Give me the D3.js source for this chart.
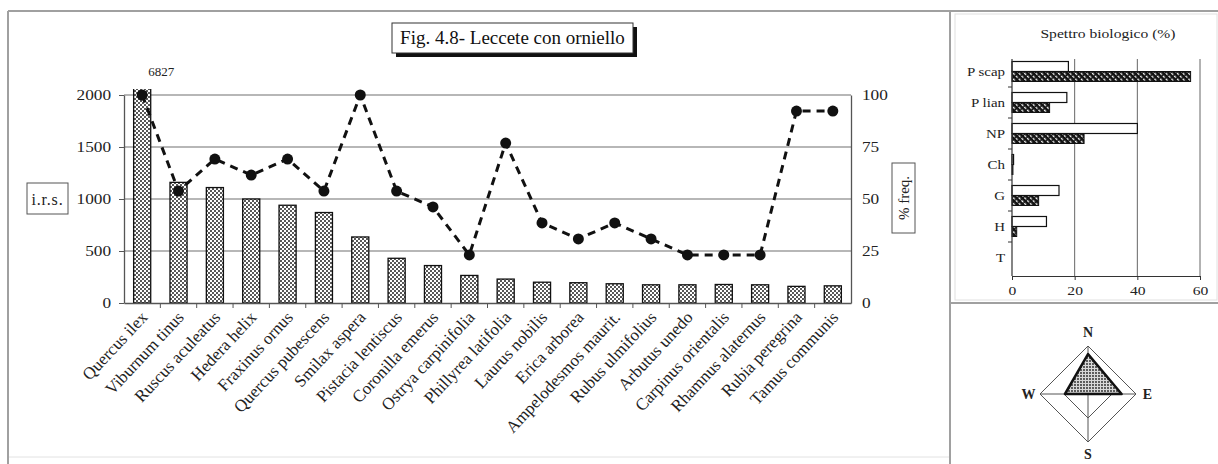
<!DOCTYPE html>
<html><head><meta charset="utf-8">
<script src="https://cdn.jsdelivr.net/npm/d3@7"></script>
<style>
html,body{margin:0;padding:0;background:#fff;}
svg{display:block;font-family:"Liberation Serif","Times New Roman",serif;}
svg text{font-family:"Liberation Serif","Times New Roman",serif;}
</style></head><body>
<svg id="chart" width="1218" height="464"></svg>
<script>
// Species of the holm-oak stands with manna ash, in order of i.r.s.
const species = ["Quercus ilex","Viburnum tinus","Ruscus aculeatus","Hedera helix","Fraxinus ornus",
  "Quercus pubescens","Smilax aspera","Pistacia lentiscus","Coronilla emerus","Ostrya carpinifolia",
  "Phillyrea latifolia","Laurus nobilis","Erica arborea","Ampelodesmos maurit.","Rubus ulmifolius",
  "Arbutus unedo","Carpinus orientalis","Rhamnus alaternus","Rubia peregrina","Tamus communis"];
const irsValues = [6827,1160,1110,1000,940,870,635,430,360,265,230,200,195,185,175,175,178,175,160,165];
const freqValues = [100,53.8,69.2,61.5,69.2,53.8,100,53.8,46.2,23.1,76.9,38.5,30.8,38.5,30.8,23.1,23.1,23.1,92.3,92.3];
const irsTicks = [0,500,1000,1500,2000];
const freqTicks = [0,25,50,75,100];

// Biological spectrum (%)
const lifeForms = ["P scap","P lian","NP","Ch","G","H","T"];
const floraShare = [18,17.5,40,0.5,15,11,0];
const coverShare = [57,12,23,0.3,8.5,1.5,0];
const spectrumTicks = [0,20,40,60];

// Exposure rose
const aspects = ["N","E","S","W"];
const aspectValues = [0.83,0.70,0,0.48];
const aspectRings = [0.5,1];

const svg = d3.select("#chart");
const defs = svg.append("defs");

// widen a text node horizontally around its own anchor
function widen(sel, k){
  sel.each(function(){
    const t = d3.select(this);
    const x = +t.attr("x") || 0, y = +t.attr("y") || 0;
    t.attr("transform", `translate(${x},${y}) scale(${k},1) translate(${-x},${-y})`);
  });
}

const dots = defs.append("pattern").attr("id","dots").attr("width",4).attr("height",4)
  .attr("patternUnits","userSpaceOnUse");
dots.append("rect").attr("width",4).attr("height",4).attr("fill","#fff");
dots.append("circle").attr("cx",1).attr("cy",1).attr("r",0.95).attr("fill","#111");
dots.append("circle").attr("cx",3).attr("cy",3).attr("r",0.95).attr("fill","#111");

const rose = defs.append("pattern").attr("id","rosefill").attr("width",3).attr("height",3)
  .attr("patternUnits","userSpaceOnUse");
rose.append("rect").attr("width",3).attr("height",3).attr("fill","#d8d8d8");
rose.append("circle").attr("cx",1).attr("cy",1).attr("r",0.9).attr("fill","#222");

const hatch = defs.append("pattern").attr("id","hatch").attr("width",4).attr("height",4)
  .attr("patternUnits","userSpaceOnUse").attr("patternTransform","rotate(-45)");
hatch.append("rect").attr("width",4).attr("height",4).attr("fill","#111");
hatch.append("rect").attr("width",1.3).attr("height",2.5).attr("fill","#fff");

// ---- panel frames ----
const frame = svg.append("g").attr("stroke","#a0a0a0").attr("fill","none");
frame.append("line").attr("x1",8).attr("x2",1218).attr("y1",11).attr("y2",11).attr("stroke-width",2);
frame.append("line").attr("x1",8).attr("x2",8).attr("y1",11).attr("y2",464).attr("stroke-width",2);
frame.append("line").attr("x1",950).attr("x2",950).attr("y1",11).attr("y2",464).attr("stroke-width",2);
frame.append("line").attr("x1",950).attr("x2",1218).attr("y1",303).attr("y2",303).attr("stroke-width",2);
frame.append("line").attr("x1",9).attr("x2",949).attr("y1",457).attr("y2",457).attr("stroke","#e2e2e2");
frame.append("rect").attr("x",955).attr("y",14).attr("width",262).attr("height",286).attr("stroke","#e0e0e0");

// ---- main chart: i.r.s. bars and % frequency line ----
const plot = {left:124, right:851, top:95, bottom:303};
const x = d3.scaleBand().domain(species).range([plot.left, plot.right]);
const yIrs = d3.scaleLinear().domain([0,2000]).range([plot.bottom, plot.top]);
const yFreq = d3.scaleLinear().domain([0,100]).range([plot.bottom, plot.top]);

const main = svg.append("g");
main.append("g").attr("stroke","#707070").attr("stroke-width",1.2)
  .selectAll("line").data(irsTicks.filter(d => d > 0)).join("line")
  .attr("x1",plot.left).attr("x2",plot.right).attr("y1",d=>yIrs(d)).attr("y2",d=>yIrs(d));

defs.append("clipPath").attr("id","plotclip").append("rect")
  .attr("x",plot.left).attr("y",plot.top-6).attr("width",plot.right-plot.left).attr("height",plot.bottom-plot.top+6);

const bw = x.bandwidth()*0.47;
main.append("g").attr("clip-path","url(#plotclip)")
  .selectAll("rect").data(species).join("rect")
  .attr("x", d => x(d)+(x.bandwidth()-bw)/2)
  .attr("width", bw)
  .attr("y", (d,i) => yIrs(irsValues[i]))
  .attr("height", (d,i) => plot.bottom - yIrs(irsValues[i]))
  .attr("fill","url(#dots)").attr("stroke","#111").attr("stroke-width",1.3);

// value of the clipped first bar
main.append("text").attr("x", x(species[0])+x.bandwidth()/2+19).attr("y", plot.top-19)
  .attr("text-anchor","middle").attr("font-size",13).attr("fill","#222").text(irsValues[0]);

const axL = main.append("g").attr("transform",`translate(${plot.left},0)`)
  .call(d3.axisLeft(yIrs).tickValues(irsTicks).tickFormat(d3.format("d")).tickSize(5).tickSizeOuter(0).tickPadding(8));
const axR = main.append("g").attr("transform",`translate(${plot.right},0)`)
  .call(d3.axisRight(yFreq).tickValues(freqTicks).tickFormat(d3.format("d")).tickSize(0).tickPadding(11));
const axB = main.append("g").attr("transform",`translate(0,${plot.bottom})`)
  .call(d3.axisBottom(x).tickSize(0).tickFormat(""));
axB.selectAll(".tick").remove();
axB.append("g").selectAll("line").data(species.slice(1)).join("line")
  .attr("x1",d=>x(d)).attr("x2",d=>x(d)).attr("y1",0).attr("y2",5).attr("stroke","#555");
[axL,axR,axB].forEach(a => {
  a.attr("font-family",null);
  a.select(".domain").attr("stroke","#555").attr("stroke-width",1.3);
  a.selectAll(".tick line").attr("stroke","#555");
  a.selectAll("text").attr("font-size",15).attr("fill","#222");
});
widen(axL.selectAll("text"),1.15);
widen(axR.selectAll("text"),1.15);

// species names under the axis
main.append("g").selectAll("text").data(species).join("text")
  .attr("transform", d => `translate(${x(d)+x.bandwidth()/2+2},${plot.bottom+11}) rotate(-47)`)
  .attr("text-anchor","end").attr("dy","0.35em").attr("font-size",17).attr("fill","#222")
  .text(d=>d);

// frequency line
const line = d3.line().x((d,i)=>x(species[i])+x.bandwidth()/2).y(d=>yFreq(d));
main.append("path").datum(freqValues).attr("d",line)
  .attr("fill","none").attr("stroke","#111").attr("stroke-width",3).attr("stroke-dasharray","8,6");
main.append("g").selectAll("circle").data(freqValues).join("circle")
  .attr("cx",(d,i)=>x(species[i])+x.bandwidth()/2).attr("cy",d=>yFreq(d)).attr("r",5.5).attr("fill","#111");

// title box with shadow
const title = main.append("g");
title.append("rect").attr("x",396).attr("y",27).attr("width",241).attr("height",30).attr("fill","#111");
title.append("rect").attr("x",392).attr("y",23).attr("width",241).attr("height",30)
  .attr("fill","#fff").attr("stroke","#333");
title.append("text").attr("x",512.5).attr("y",44).attr("text-anchor","middle").attr("font-size",19)
  .attr("fill","#111").text("Fig. 4.8- Leccete con orniello");

// axis name boxes
main.append("rect").attr("x",27).attr("y",183).attr("width",41).attr("height",31).attr("fill","#fff").attr("stroke","#555");
main.append("text").attr("x",47.5).attr("y",199).attr("dy","0.35em").attr("text-anchor","middle")
  .attr("font-size",16).attr("letter-spacing",0.8).attr("fill","#222").text("i.r.s.");
main.append("rect").attr("x",892).attr("y",163).attr("width",23).attr("height",70).attr("fill","#fff").attr("stroke","#555");
main.append("text").attr("transform","translate(903.5,198) rotate(-90)").attr("dy","0.35em")
  .attr("text-anchor","middle").attr("font-size",15).attr("fill","#222").text("% freq.");

// ---- biological spectrum ----
const sp = {left:1012, right:1200, top:56, bottom:273};
const xs = d3.scaleLinear().domain([0,60]).range([sp.left, sp.right]);
const ys = d3.scaleBand().domain(lifeForms).range([sp.top, sp.bottom]);
const pair = d3.scaleBand().domain(["flora","cover"]).range([0, ys.bandwidth()]).paddingOuter(0.55);
const spec = svg.append("g");

spec.append("text").attr("x",1108).attr("y",38).attr("text-anchor","middle").attr("font-size",12)
  .attr("fill","#222").text("Spettro biologico (%)").call(widen,1.3);

spec.append("g").attr("stroke","#666").selectAll("line").data(spectrumTicks.filter(d=>d>0)).join("line")
  .attr("x1",d=>xs(d)).attr("x2",d=>xs(d)).attr("y1",sp.top+3).attr("y2",sp.bottom+3);

spec.append("g").selectAll("rect").data(lifeForms).join("rect")
  .attr("x",sp.left).attr("y",d=>ys(d)+pair("flora")).attr("height",pair.bandwidth())
  .attr("width",(d,i)=>xs(floraShare[i])-sp.left)
  .attr("fill","#fff").attr("stroke","#111").attr("stroke-width",1.2)
  .attr("display",(d,i)=>floraShare[i]>0?null:"none");
spec.append("g").selectAll("rect").data(lifeForms).join("rect")
  .attr("x",sp.left).attr("y",d=>ys(d)+pair("cover")).attr("height",pair.bandwidth())
  .attr("width",(d,i)=>xs(coverShare[i])-sp.left)
  .attr("fill","url(#hatch)").attr("stroke","#111").attr("stroke-width",1)
  .attr("display",(d,i)=>coverShare[i]>0?null:"none");

const sAxB = spec.append("g").attr("transform",`translate(0,${sp.bottom+3})`)
  .call(d3.axisBottom(xs).tickValues(spectrumTicks).tickSize(4).tickSizeOuter(0).tickPadding(6));
const sAxL = spec.append("g").attr("transform",`translate(${sp.left},0)`)
  .call(d3.axisLeft(ys).tickSize(0).tickPadding(7));
sAxL.select(".domain").attr("d",`M0,${sp.top+3}V${sp.bottom+3}`);
sAxL.append("g").selectAll("line").data(lifeForms.slice(1)).join("line")
  .attr("x1",-4).attr("x2",0).attr("y1",d=>ys(d)).attr("y2",d=>ys(d)).attr("stroke","#333");
[sAxB,sAxL].forEach(a => {
  a.attr("font-family",null);
  a.select(".domain").attr("stroke","#333").attr("stroke-width",1.2);
  a.selectAll(".tick line").attr("stroke","#333");
  a.selectAll("text").attr("font-size",13).attr("fill","#222");
});
widen(sAxL.selectAll("text"),1.15);
widen(sAxB.selectAll("text"),1.2);

// ---- exposure rose ----
const c = {x:1088, y:394};
const r = d3.scaleLinear().domain([0,1]).range([0,48]);
const dir = {N:[0,-1], E:[1,0], S:[0,1], W:[-1,0]};
const pt = (a,v) => [c.x + dir[a][0]*r(v), c.y + dir[a][1]*r(v)];
const roseG = svg.append("g");
roseG.append("g").selectAll("polygon").data(aspectRings).join("polygon")
  .attr("points", v => aspects.map(a => pt(a,v).join(",")).join(" "))
  .attr("fill","none").attr("stroke","#555").attr("stroke-width",1);
roseG.append("g").selectAll("line").data(aspects).join("line")
  .attr("x1",c.x).attr("y1",c.y).attr("x2",a=>pt(a,1)[0]).attr("y2",a=>pt(a,1)[1])
  .attr("stroke","#555");
roseG.append("polygon")
  .attr("points", aspects.map((a,i)=>pt(a,aspectValues[i]).join(",")).join(" "))
  .attr("fill","url(#rosefill)").attr("stroke","#111").attr("stroke-width",2.5).attr("stroke-linejoin","round");
roseG.append("g").selectAll("text").data(aspects).join("text")
  .attr("x",a=>pt(a,1.3)[0] + (a==="E"?-3:a==="W"?3:0)).attr("y",a=>pt(a,a==="N"?1.3:1.25)[1])
  .attr("dy","0.35em").attr("text-anchor","middle").attr("font-weight","bold").attr("font-size",14)
  .attr("fill","#222").text(a=>a);
</script>
</body></html>
